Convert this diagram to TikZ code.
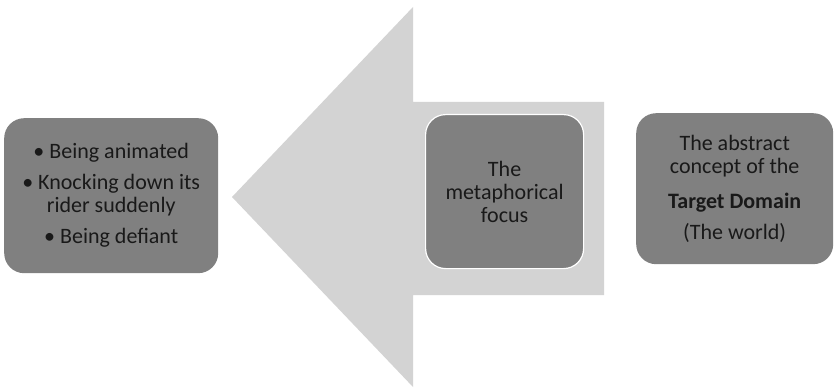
\documentclass[tikz,border=0pt]{standalone}
\usepackage{fontspec}
\setmainfont{Carlito}
\usetikzlibrary{positioning}
\definecolor{boxgray}{RGB}{128,128,128}
\definecolor{arrowgray}{RGB}{211,211,211}

\begin{document}
\begin{tikzpicture}[x=1pt,y=-1pt,
  card/.style={rounded corners=20pt,fill=boxgray,align=center,font=\fontsize{22}{23}\selectfont,
    inner sep=0pt,anchor=north west,text=black!90}]
\useasboundingbox (0,0) rectangle (835,390);
% the big arrow pointing left
\fill[arrowgray] (232,197) -- (413,7) -- (413,102) -- (604,102) -- (604,295) -- (413,295) -- (413,387) -- cycle;
\node[card,minimum width=214pt,minimum height=155pt] (src) at (4,118)
  {\textbullet{} Being animated\\[8pt]\textbullet{} Knocking down its\\rider suddenly\\[8pt]\textbullet{} Being defiant};
\node[card,draw=white,line width=1.2pt,minimum width=158pt,minimum height=154pt] (focus) at (425,114)
  {The\\metaphorical\\focus};
\node[card,minimum width=197pt,minimum height=151pt] (tgt) at (636,113)
  {The abstract\\concept of the\\[12pt]\textbf{Target Domain}\\[8pt](The world)};
\end{tikzpicture}
\end{document}
